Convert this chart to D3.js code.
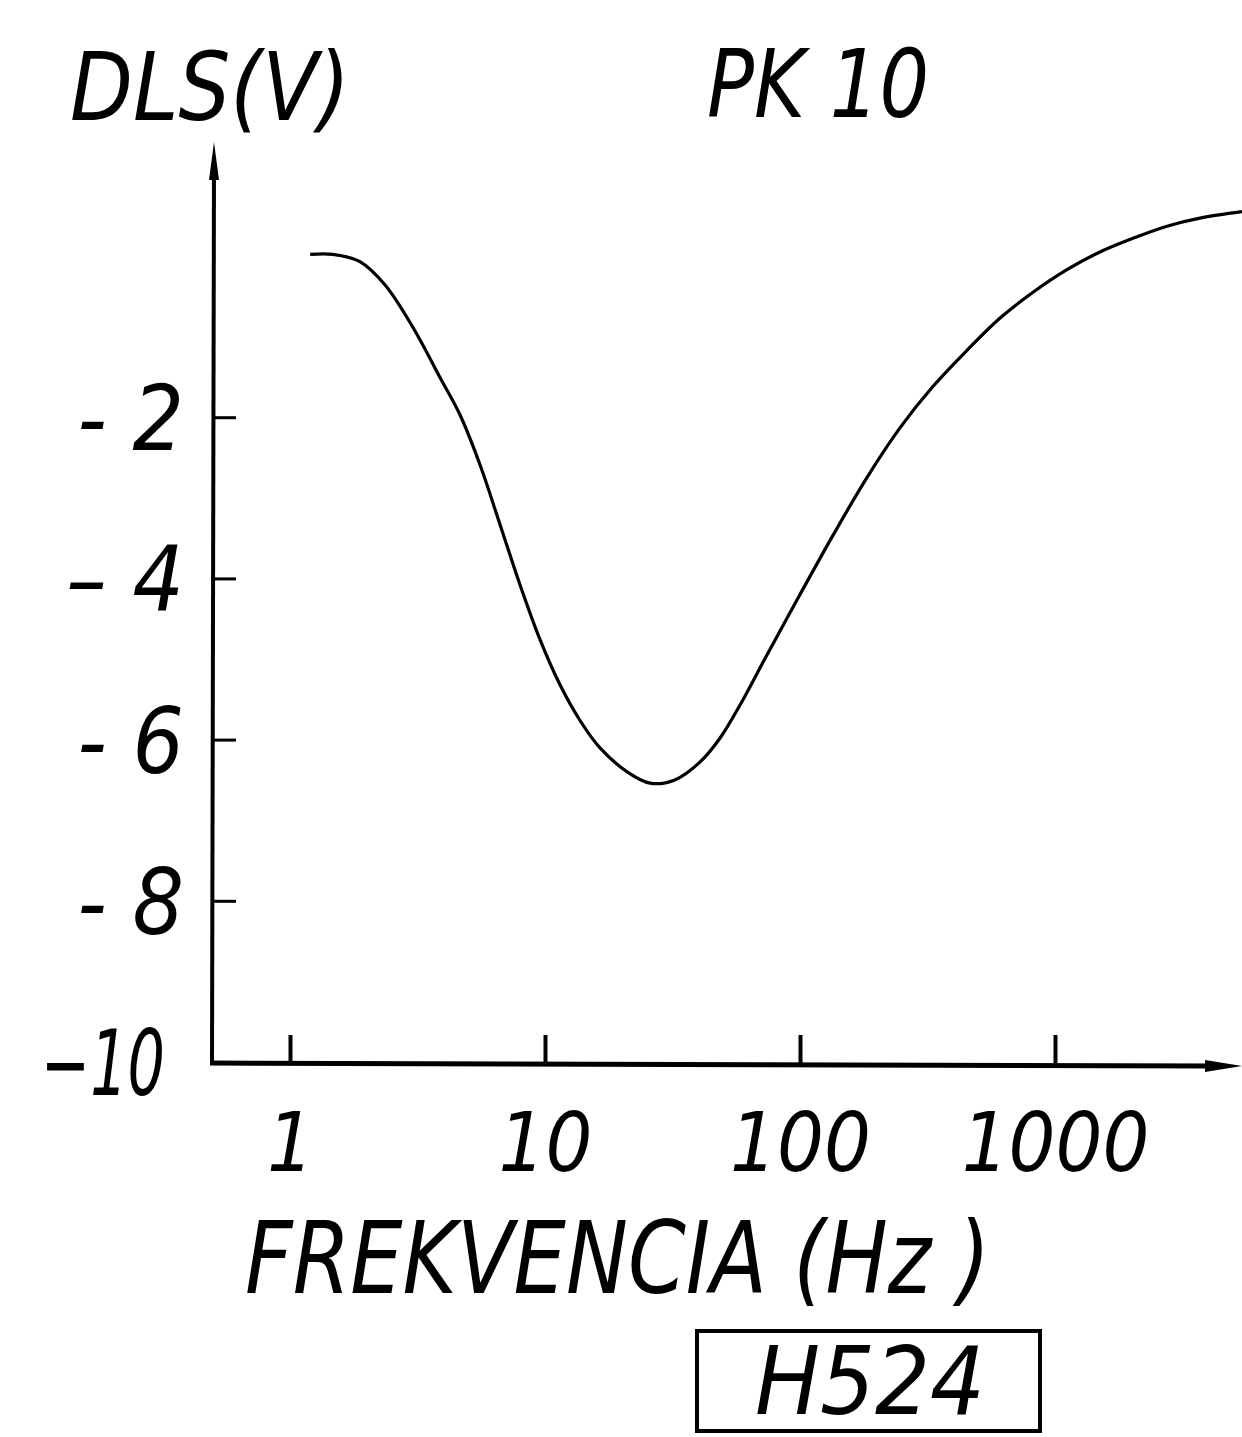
<!DOCTYPE html>
<html>
<head>
<meta charset="utf-8">
<script src="https://cdn.jsdelivr.net/npm/d3@7"></script>
<style>
  html, body { margin: 0; padding: 0; background: #fff; }
  svg { display: block; }
  text { font-family: "Liberation Sans Narrow", "DejaVu Sans Condensed", "Liberation Sans", sans-serif; font-style: italic; fill: #000; }
</style>
</head>
<body>
<svg></svg>
<script>
(function (d3) {
  'use strict';

  // frequency (Hz) and DLS (V)
  var freq = [1.2, 1.47, 1.88, 2.36, 3.04, 3.88, 4.64, 5.56, 6.66, 7.98, 9.56, 11.45, 13.7, 16.4, 21.0,
              25.8, 32.3, 40.5, 48.6, 58.2, 74.2, 100, 135, 183, 247, 332, 452, 609, 820, 1114, 1500,
              2022, 2750, 3703, 5410];
  var dls = [0.02, 0.02, -0.07, -0.36, -0.89, -1.51, -1.97, -2.59, -3.33, -4.08, -4.76, -5.32, -5.76, -6.10, -6.40,
             -6.54, -6.50, -6.28, -5.98, -5.57, -4.95, -4.20, -3.46, -2.75, -2.13, -1.62, -1.17, -0.77, -0.45, -0.17, 0.05,
             0.22, 0.37, 0.47, 0.55];
  var xTicks = [1, 10, 100, 1000];
  var xTickLabels = ["1", "10", "100", "1000"];
  var yTicks = [-2, -4, -6, -8, -10];
  var yTickLabels = ["- 2", "– 4", "- 6", "- 8", "−10"];

  var width = 1242, height = 1437,
      x0 = 212, y0 = 1063;

  var svg = d3.select("svg")
    .attr("width", width)
    .attr("height", height);

  svg.append("rect").attr("width", width).attr("height", height).attr("fill", "#fff");

  var x = d3.scaleLog().domain([1, 10000]).range([290, 1310]);
  var y = d3.scaleLinear().domain([-10, 0]).range([1062, 256]);

  // axis lines with arrows
  svg.append("line")
    .attr("x1", x0).attr("y1", y0 + 2)
    .attr("x2", x0 + 2).attr("y2", 165)
    .attr("stroke", "#000").attr("stroke-width", 4);
  svg.append("path")
    .attr("d", "M" + (x0 + 2) + ",142 L" + (x0 + 7) + ",180 L" + (x0 - 3) + ",180 Z")
    .attr("fill", "#000");

  svg.append("line")
    .attr("x1", x0 - 2).attr("y1", y0)
    .attr("x2", 1215).attr("y2", y0 + 3)
    .attr("stroke", "#000").attr("stroke-width", 5);
  svg.append("path")
    .attr("d", "M1242," + (y0 + 3) + " L1205," + (y0 - 3) + " L1205," + (y0 + 9) + " Z")
    .attr("fill", "#000");

  // y ticks
  var gy = svg.append("g")
    .attr("transform", "translate(" + x0 + ",0)")
    .call(d3.axisLeft(y)
      .tickValues(yTicks)
      .tickSize(-24)
      .tickPadding(28)
      .tickFormat(function (d, i) { return yTickLabels[i]; }));
  gy.select(".domain").remove();
  gy.selectAll(".tick line").attr("stroke", "#000").attr("stroke-width", 3);
  gy.selectAll(".tick text")
    .attr("font-family", null)
    .attr("font-size", 90)
    .attr("fill", "#000")
    .attr("dy", "0.36em");
  gy.selectAll(".tick text")
    .filter(function (d) { return d === -10; })
    .attr("dx", -19)
    .attr("textLength", 124)
    .attr("lengthAdjust", "spacingAndGlyphs");

  // x ticks
  var gx = svg.append("g")
    .attr("transform", "translate(0," + y0 + ")")
    .call(d3.axisBottom(x)
      .tickValues(xTicks)
      .tickSize(-28)
      .tickPadding(50)
      .tickFormat(function (d, i) { return xTickLabels[i]; }));
  gx.select(".domain").remove();
  gx.selectAll(".tick line").attr("stroke", "#000").attr("stroke-width", 4);
  gx.selectAll(".tick text")
    .attr("font-family", null)
    .attr("font-size", 82)
    .attr("fill", "#000");

  // curve
  var line = d3.line()
    .x(function (d, i) { return x(freq[i]); })
    .y(function (d) { return y(d); })
    .curve(d3.curveCatmullRom.alpha(0.5));

  svg.append("path")
    .datum(dls)
    .attr("d", line)
    .attr("fill", "none")
    .attr("stroke", "#000")
    .attr("stroke-width", 3.2)
    .attr("stroke-linejoin", "round");

  // titles
  svg.append("text").attr("x", 70).attr("y", 120)
    .attr("font-size", 94).attr("textLength", 280).attr("lengthAdjust", "spacingAndGlyphs")
    .text("DLS(V)");
  svg.append("text").attr("x", 707).attr("y", 117)
    .attr("font-size", 94).attr("textLength", 222).attr("lengthAdjust", "spacingAndGlyphs")
    .text("PK 10");
  svg.append("text").attr("x", 245).attr("y", 1293)
    .attr("font-size", 100).attr("textLength", 745).attr("lengthAdjust", "spacingAndGlyphs")
    .text("FREKVENCIA (Hz )");

  svg.append("rect")
    .attr("x", 697).attr("y", 1331).attr("width", 343).attr("height", 100)
    .attr("fill", "none").attr("stroke", "#000").attr("stroke-width", 4);
  svg.append("text").attr("x", 755).attr("y", 1414)
    .attr("font-size", 94).attr("textLength", 230).attr("lengthAdjust", "spacingAndGlyphs")
    .text("H524");

}(d3));
</script>
</body>
</html>
